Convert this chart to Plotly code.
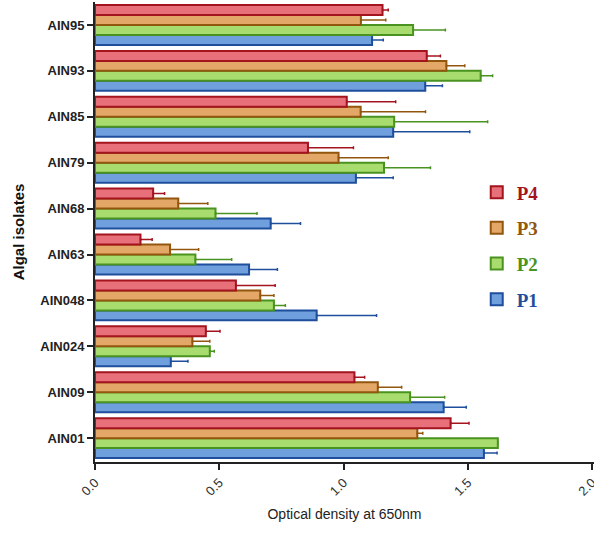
import plotly.graph_objects as go

categories = ["AIN01", "AIN09", "AIN024", "AIN048", "AIN63", "AIN68", "AIN79", "AIN85", "AIN93", "AIN95"]

p1 = [1.565, 1.403, 0.305, 0.892, 0.620, 0.707, 1.050, 1.200, 1.329, 1.115]
p1_top = [1.618, 1.494, 0.374, 1.133, 0.734, 0.827, 1.200, 1.508, 1.398, 1.160]

p2 = [1.621, 1.268, 0.462, 0.720, 0.404, 0.485, 1.163, 1.204, 1.552, 1.280]
p2_top = [1.621, 1.407, 0.480, 0.766, 0.550, 0.652, 1.350, 1.580, 1.600, 1.410]

p3 = [1.297, 1.138, 0.392, 0.665, 0.302, 0.335, 0.980, 1.069, 1.414, 1.070]
p3_top = [1.319, 1.234, 0.462, 0.720, 0.417, 0.454, 1.180, 1.330, 1.488, 1.170]

p4 = [1.431, 1.044, 0.446, 0.567, 0.183, 0.234, 0.857, 1.013, 1.335, 1.157]
p4_top = [1.505, 1.085, 0.503, 0.725, 0.230, 0.280, 1.040, 1.210, 1.390, 1.180]

x_ticks = [0.0, 0.5, 1.0, 1.5, 2.0]

series = [
    ("P1", p1, p1_top, "#6f9fdc", "#1f4f9c", 4),
    ("P2", p2, p2_top, "#a8dc6e", "#4a9320", 3),
    ("P3", p3, p3_top, "#e3a868", "#93560f", 2),
    ("P4", p4, p4_top, "#e8707a", "#a3141f", 1),
]

fig = go.Figure()
for name, vals, tops, fill, edge, rank in series:
    fig.add_trace(go.Bar(
        y=categories, x=vals, orientation="h",
        name=f"<span style='color:{edge}'><b>{name}</b></span>",
        legendgroup=name, legendrank=rank,
        marker=dict(color=fill, line=dict(color=edge, width=2)),
        error_x=dict(type="data", symmetric=False,
                     array=[t - v for t, v in zip(tops, vals)],
                     arrayminus=[0] * len(vals),
                     color=edge, thickness=1.5, width=1.5),
    ))

fig.update_layout(
    width=594, height=535,
    margin=dict(l=95, r=0, t=2, b=73),
    barmode="group", bargap=0.13, bargroupgap=0,
    plot_bgcolor="white", paper_bgcolor="white",
    showlegend=True,
    legend=dict(x=0.765, y=0.47, xanchor="left", yanchor="middle",
                traceorder="grouped",
                font=dict(family="Liberation Serif", size=19),
                itemwidth=30, tracegroupgap=8,
                bgcolor="rgba(0,0,0,0)"),
    font=dict(family="Liberation Sans", color="#222"),
)

fig.update_xaxes(
    range=[0, 2.008], tickvals=x_ticks, ticktext=["0.0", "0.5", "1.0", "1.5", "2.0"],
    tickangle=-45, ticks="outside", ticklen=6, tickwidth=1.5, tickcolor="#222",
    ticklabeloverflow="allow", automargin=False,
    showline=True, linecolor="#222", linewidth=2, showgrid=False, zeroline=False,
    tickfont=dict(size=13, color="#333"),
    title=dict(text="Optical density at 650nm", font=dict(size=14, color="#222"), standoff=12),
)
fig.update_yaxes(
    categoryorder="array", categoryarray=categories,
    range=[-0.52, 9.5],
    ticks="outside", ticklen=6, tickwidth=1.5, tickcolor="#222",
    showline=True, linecolor="#222", linewidth=2, showgrid=False, zeroline=False,
    tickfont=dict(size=13, color="#222", weight="bold"),
    title=dict(text="<b>Algal isolates</b>", font=dict(size=15, color="#111"), standoff=12),
)

fig.write_html("out.html")
